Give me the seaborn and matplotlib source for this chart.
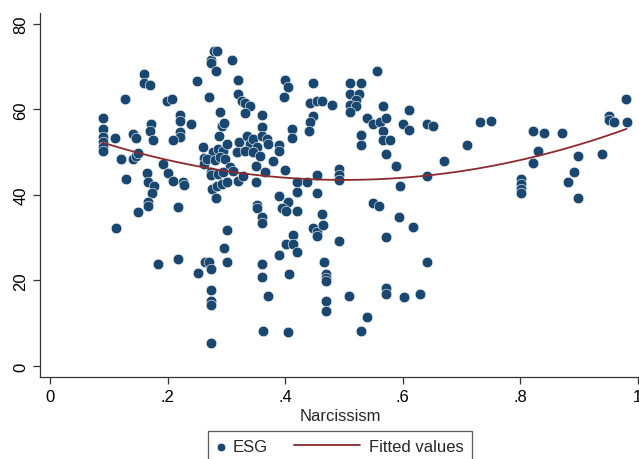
import numpy as np
import pandas as pd
import seaborn as sns
import matplotlib
matplotlib.use("Agg")
import matplotlib.pyplot as plt
from matplotlib.legend_handler import HandlerLine2D

# Narcissism (x) and ESG score (y)
narcissism = [
    .090, .090, .090, .090, .090, .090,
    .111, .128, .121, .129, .141, .147,
    .141, .147, .150, .112, .150,
    .160, .160, .170, .172, .170, .175,
    .165, .167, .177, .174, .167, .167, .184,
    .193, .199, .208, .201, .210,
    .221, .221, .221, .221, .210,
    .227, .228, .240, .250, .218, .218, .252,
    .261, .262, .262, .271, .274,
    .274, .274, .279, .284, .283, .290, .288,
    .293, .296, .278, .286, .295,
    .267, .281, .290, .298, .302, .307, .312,
    .274, .286, .295,
    .276, .284, .293, .302, .283,
    .264, .271, .274, .274, .274, .274, .274,
    .302, .296, .302,
    .310, .320, .320, .327, .332, .341, .332,
    .322, .319, .336, .341, .346, .353, .332,
    .320, .329, .346, .358, .351, .351, .353, .353,
    .361, .361, .361, .370, .371, .366, .380,
    .390, .390, .400, .390, .400, .405, .399,
    .412, .412, .421, .421, .405, .395, .402, .421,
    .361, .361, .402, .414, .414, .421, .390, .407,
    .361, .361, .371, .363, .405,
    .438, .448, .443, .455, .463, .480,
    .448, .443, .440, .455, .455,
    .463, .448, .455, .455, .465, .491, .467,
    .470, .470, .470, .470, .470,
    .491, .491, .491,
    .511, .530, .511, .525, .520, .511, .521, .511,
    .557, .540, .550, .562, .571, .566, .566, .579, .571,
    .567, .530, .530, .589, .595,
    .550, .559, .593, .617, .571,
    .571, .571, .509, .540, .530,
    .610, .600, .610, .641, .651, .641, .670,
    .710, .731, .751, .641, .603, .630,
    .821, .840, .871, .830, .821,
    .801, .801, .801, .801,
    .899, .891, .881, .899, .940,
    .951, .951, .959, .980, .981,
]
esg = [
    58.0, 55.4, 53.6, 52.4, 51.2, 50.3,
    53.3, 62.5, 48.4, 43.7, 54.3, 53.3,
    48.4, 49.1, 49.8, 32.3, 36.0,
    68.3, 66.2, 65.7, 56.6, 55.0, 52.9,
    45.1, 43.0, 42.1, 40.5, 38.4, 37.4, 23.9,
    47.3, 62.0, 62.5, 45.1, 43.3,
    58.7, 57.3, 54.7, 53.6, 52.9,
    43.0, 42.3, 56.6, 66.7, 37.2, 25.0, 21.8,
    51.2, 48.7, 47.3, 62.9, 45.4,
    71.6, 70.9, 73.7, 73.7, 69.0, 59.4, 53.8,
    56.1, 56.8, 50.1, 50.8, 50.3,
    48.4, 48.2, 48.9, 48.4, 52.0, 46.5, 45.6,
    44.7, 44.9, 45.4,
    41.4, 42.1, 42.6, 43.0, 39.3,
    24.3, 24.3, 22.7, 17.8, 15.2, 14.3, 5.4,
    31.8, 27.6, 24.3,
    71.6, 66.9, 63.6, 62.0, 61.5, 60.8, 59.2,
    52.4, 50.1, 53.8, 51.9, 53.1, 51.2, 50.3,
    43.3, 44.4, 50.1, 49.1, 46.8, 43.0, 37.7, 37.0,
    58.7, 55.9, 53.8, 53.1, 51.9, 45.4, 48.0,
    51.7, 50.3, 45.8, 39.8, 66.9, 65.3, 62.9,
    55.4, 53.3, 43.0, 40.7, 38.4, 37.0, 36.3, 36.3,
    34.9, 33.5, 28.5, 30.6, 28.5, 26.7, 26.0, 21.5,
    23.9, 20.8, 16.4, 8.2, 8.0,
    43.0, 66.2, 61.5, 62.0, 62.0, 61.1,
    58.5, 57.1, 55.0, 44.7, 40.5,
    35.6, 32.3, 31.3, 30.4, 33.0, 29.2, 24.3,
    21.5, 20.6, 19.9, 15.2, 12.9,
    46.1, 44.7, 43.5,
    66.2, 66.2, 63.6, 63.6, 62.2, 61.1, 60.8, 59.4,
    69.0, 58.0, 56.6, 57.1, 58.0, 55.0, 52.9, 52.9, 49.6,
    60.8, 54.0, 51.7, 46.8, 42.1,
    38.1, 37.4, 34.9, 32.5, 30.2,
    18.2, 16.8, 16.4, 11.5, 8.2,
    59.9, 56.6, 55.2, 56.6, 56.1, 44.4, 48.0,
    51.7, 57.1, 57.3, 24.3, 16.1, 16.8,
    55.0, 54.5, 54.5, 50.3, 47.5,
    43.7, 42.6, 41.4, 40.5,
    49.1, 45.4, 43.0, 39.3, 49.6,
    58.5, 57.5, 57.1, 62.5, 57.1,
]
x_ticks = [0, 0.2, 0.4, 0.6, 0.8, 1.0]
x_tick_labels = ["0", ".2", ".4", ".6", ".8", "1"]
y_ticks = [0, 20, 40, 60, 80]

df = pd.DataFrame({"Narcissism": narcissism, "ESG": esg})


class LongLineHandler(HandlerLine2D):
    # Stata draws the line key much wider than the marker key; stretch it
    # leftwards into the column gap so the marker key can stay narrow
    def get_xdata(self, legend, xdescent, ydescent, width, height, fontsize):
        x0 = -xdescent - 3.5 * fontsize
        x1 = -xdescent + width * 0.7
        return np.array([x0, x1]), np.array([x0, x1])


sns.set_style("ticks")
plt.rcParams["font.family"] = ["Liberation Sans", "DejaVu Sans"]

navy = "#1a476f"
maroon = "#8c2a30"

fig = plt.figure(figsize=(6.39, 4.60), dpi=100)
ax = fig.add_axes([0.0626, 0.178, 0.94, 0.792])

sns.scatterplot(data=df, x="Narcissism", y="ESG", ax=ax, color=navy, s=58,
                edgecolor="white", linewidth=0.4, label="ESG", zorder=2)
# quadratic fit, same as Stata's qfit
sns.regplot(data=df, x="Narcissism", y="ESG", ax=ax, order=2, scatter=False,
            ci=None, color=maroon, line_kws={"lw": 1.3, "zorder": 3},
            label="Fitted values")

ax.set_xlim(-0.017, 1.005)
ax.set_ylim(-2.6, 82.6)
ax.set_xticks(x_ticks)
ax.set_xticklabels(x_tick_labels)
ax.set_yticks(y_ticks)
ax.tick_params(axis="both", labelsize=12, length=5, width=0.9,
               color="#333333", labelcolor="black")
for lab in ax.get_yticklabels():
    lab.set_rotation(90)
    lab.set_va("center")
ax.set_xlabel("Narcissism", fontsize=12, labelpad=3)
ax.set_ylabel("")
for side in ["left", "bottom"]:
    ax.spines[side].set_color("#333333")
    ax.spines[side].set_linewidth(0.9)
sns.despine(ax=ax)

ax.get_legend().remove()
handles, labels = ax.get_legend_handles_labels()
leg = fig.legend(handles, labels, loc="upper center", bbox_to_anchor=(0.532, 0.061),
                 borderaxespad=0, ncol=2, fontsize=12, frameon=True, fancybox=False,
                 edgecolor="#333333", handlelength=0.6, handletextpad=0.4,
                 columnspacing=5.1, borderpad=0.5, markerscale=0.8,
                 handler_map={handles[1]: LongLineHandler()})
leg.get_frame().set_linewidth(0.9)

fig.savefig("out.png", dpi=100)
